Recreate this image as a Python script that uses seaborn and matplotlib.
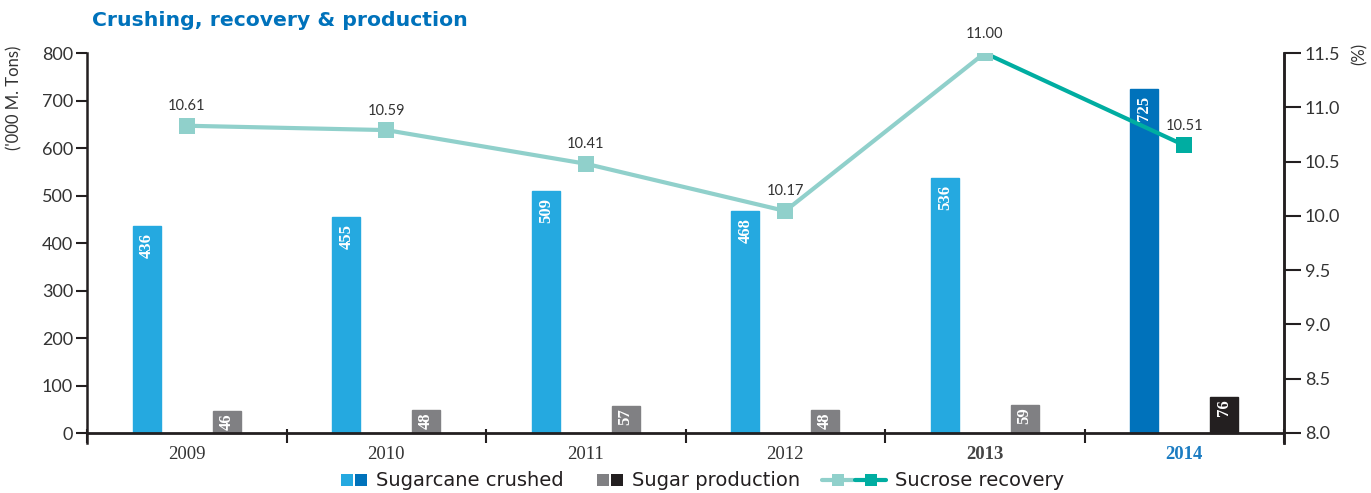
"""
Crushing, recovery & production — bars (sugarcane / sugar) + sucrose recovery line
"""

import pandas as pd
import numpy as np
import matplotlib
matplotlib.use('Agg')
import matplotlib.pyplot as plt
from matplotlib.lines import Line2D
from matplotlib.legend_handler import HandlerTuple
import seaborn as sns

# ---- 1. Data ----
years = ['2009', '2010', '2011', '2012', '2013', '2014']
crushed = [436, 455, 509, 468, 536, 725]          # '000 M. Tons
production = [46, 48, 57, 48, 59, 76]             # '000 M. Tons
# recovery line as drawn in the picture, and the labels printed on it
recovery_drawn = [10.83, 10.79, 10.48, 10.045, 11.5, 10.65]
recovery_labels = ['10.61', '10.59', '10.41', '10.17', '11.00', '10.51']

df = pd.DataFrame({
    'year': years * 2,
    'value': crushed + production,
    'series': ['Sugarcane crushed'] * 6 + ['Sugar production'] * 6,
})

# ---- 2. Colours ----
BLUE_LIGHT = '#25a9e0'
BLUE_DARK = '#0072bb'
GRAY = '#808083'
BLACK = '#231f20'
TEAL_LIGHT = '#90d0cb'
TEAL_DARK = '#00ada1'
TEXT = '#333333'

sns.set_style('white')
plt.rcParams['font.family'] = ['Lato', 'DejaVu Sans']

W, H = 1371, 493
fig = plt.figure(figsize=(W / 100, H / 100), dpi=100)
ax = fig.add_axes([87 / W, 1 - 443 / H, (1284 - 87) / W, (443 - 53) / H])

# ---- 3. Bars ----
sns.barplot(data=df, x='year', y='value', hue='series', order=years,
            palette=[BLUE_LIGHT, GRAY], width=0.8, gap=0.65,
            legend=False, ax=ax, saturation=1)

for i, bar in enumerate(ax.containers[0]):
    bar.set_color(BLUE_DARK if i == 5 else BLUE_LIGHT)
for i, bar in enumerate(ax.containers[1]):
    bar.set_color(BLACK if i == 5 else GRAY)

# value labels inside the bar tops (small bars get less padding)
for cont, vals, pad in zip(ax.containers[:2], [crushed, production], [-5, -1.5]):
    for bar, v in zip(cont, vals):
        ax.annotate(str(v), (bar.get_x() + bar.get_width() / 2, bar.get_height()),
                    xytext=(0, pad), textcoords='offset points',
                    ha='center', va='top', rotation=90, color='white', zorder=6,
                    fontsize=12, fontweight='bold', family='Liberation Serif')

ax.set_xlim(-0.5, 5.5)
ax.set_ylim(-21, 800)
ax.set_yticks(range(0, 801, 100))
ax.axhline(0, color=BLACK, lw=2, zorder=5)
ax.set_xlabel('')
ax.set_ylabel("('000 M. Tons)", fontsize=12, color=TEXT)
ax.yaxis.set_label_coords(-0.054, 0.885)

# category boundary ticks (pointing in from the extended bottom edge)
ax.set_xticks(np.arange(-0.5, 6.0, 1.0))
ax.set_xticklabels([])
ax.set_xticks(np.arange(6), minor=True)
ax.set_xticklabels(years, minor=True)
ax.tick_params(axis='x', which='major', direction='in', length=10, width=1.5,
               color=BLACK, bottom=True)
ax.tick_params(axis='x', which='minor', length=0, pad=2)
for lab in ax.get_xticklabels(minor=True):
    lab.set_family('Liberation Serif')
    lab.set_fontsize(13.5)
    lab.set_color(TEXT)
xl = ax.get_xticklabels(minor=True)
xl[4].set_fontweight('bold')
xl[4].set_color('#444444')
xl[5].set_fontweight('bold')
xl[5].set_color('#1b7cc2')

ax.tick_params(axis='y', direction='out', length=8, width=1.5, color=BLACK,
               labelsize=13, labelcolor=TEXT, pad=2, left=True)
for s in ['top', 'bottom']:
    ax.spines[s].set_visible(False)
for s in ['left', 'right']:
    ax.spines[s].set_color(BLACK)
    ax.spines[s].set_linewidth(1.8)

# ---- 4. Sucrose recovery line ----
ax2 = ax.twinx()
x = np.arange(6)
line_df = pd.DataFrame({'x': x, 'rec': recovery_drawn})
sns.lineplot(data=line_df.iloc[4:], x='x', y='rec', color=TEAL_DARK, lw=3,
             marker='s', markersize=12, markeredgewidth=0, ax=ax2)
sns.lineplot(data=line_df.iloc[:5], x='x', y='rec', color=TEAL_LIGHT, lw=3,
             marker='s', markersize=12, markeredgewidth=0, ax=ax2)
for xi, yi, lab in zip(x, recovery_drawn, recovery_labels):
    ax2.annotate(lab, (xi, yi), xytext=(0, 9), textcoords='offset points',
                 ha='center', va='bottom', fontsize=10.5, color=TEXT)

ax2.set_ylim(8.0 - 10 / 108.57, 11.5)
ax2.set_yticks(np.arange(8.0, 11.51, 0.5))
ax2.set_yticklabels([f'{v:.1f}' for v in np.arange(8.0, 11.51, 0.5)])
ax2.set_xlim(-0.5, 5.5)
ax2.set_xlabel('')
ax2.set_ylabel('')
ax2.tick_params(axis='y', direction='out', length=12, width=1.5, color=BLACK,
                labelsize=13, labelcolor=TEXT, pad=3, right=True)
for s in ['top', 'bottom', 'left']:
    ax2.spines[s].set_visible(False)
ax2.spines['right'].set_color(BLACK)
ax2.spines['right'].set_linewidth(1.8)
fig.text(1360 / W, 1 - 54 / H, '(%)', rotation=90, ha='center', va='center',
         fontsize=12, color=TEXT)

# ---- 5. Title and legend ----
fig.text(92 / W, 1 - 21 / H, 'Crushing, recovery & production', ha='left',
         va='center', fontsize=14.7, fontweight='bold', color=BLUE_DARK,
         family='DejaVu Sans')

leg_font = {'family': 'DejaVu Sans', 'size': 14}
sq = dict(marker='s', linestyle='none', markersize=9, markeredgewidth=0)
ln = dict(lw=3, marker='s', markersize=9, markeredgewidth=0)
legend_items = [
    ((Line2D([], [], color=BLUE_LIGHT, **sq), Line2D([], [], color=BLUE_DARK, **sq)),
     'Sugarcane crushed', 341, 1.35),
    ((Line2D([], [], color=GRAY, **sq), Line2D([], [], color=BLACK, **sq)),
     'Sugar production', 597, 1.35),
    ((Line2D([], [], color=TEAL_LIGHT, **ln), Line2D([], [], color=TEAL_DARK, **ln)),
     'Sucrose recovery', 822, 3.3),
]
for handle, label, x0, hlen in legend_items:
    leg = fig.legend([handle], [label],
                     handler_map={tuple: HandlerTuple(ndivide=None, pad=0.1)},
                     loc='center left', bbox_to_anchor=(x0 / W, 1 - 481 / H),
                     frameon=False, prop=leg_font, handlelength=hlen,
                     handletextpad=0.45, borderpad=0, borderaxespad=0)
    for t in leg.get_texts():
        t.set_color(BLACK)

fig.savefig('out.png', dpi=100)
